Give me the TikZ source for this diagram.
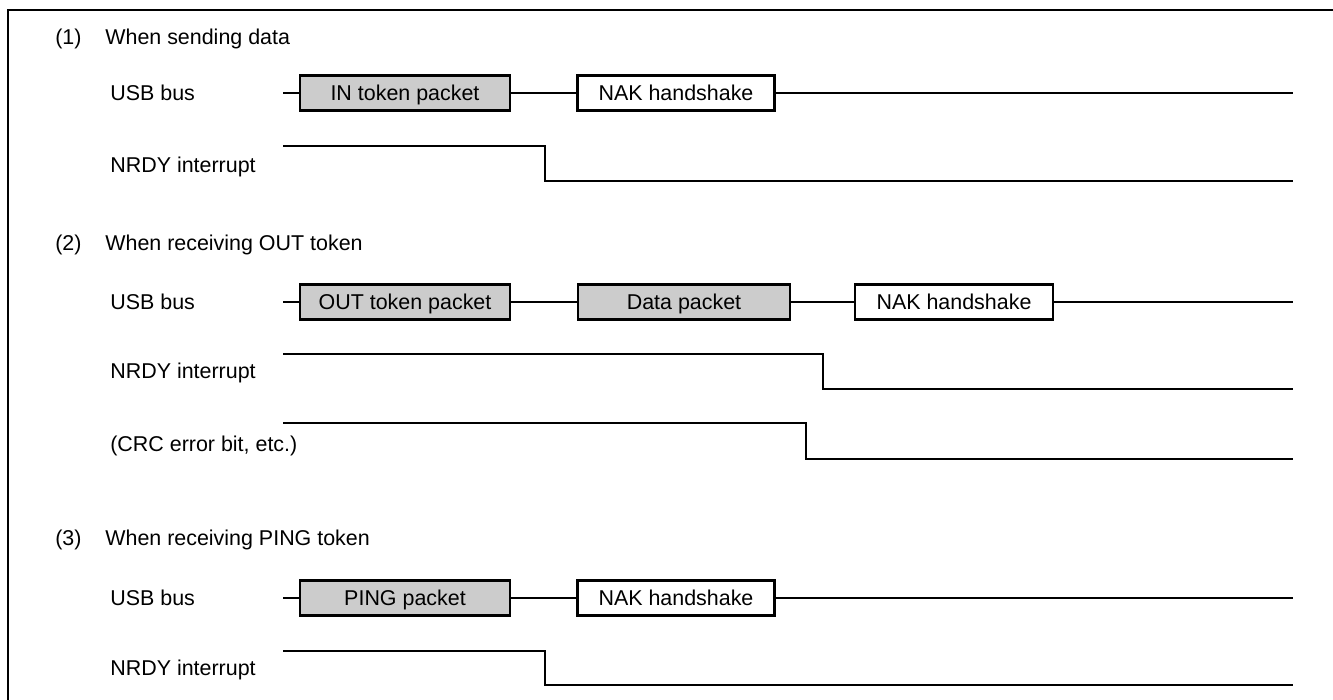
\documentclass[tikz,border=0pt]{standalone}
\usepackage{fontspec}
\setmainfont{Liberation Sans}
\usepackage{xcolor}
\usepackage{tikz}
\definecolor{pktgray}{RGB}{204,204,204}
\tikzset{
  pkt/.style={draw,line width=1.4pt,fill=pktgray,minimum width=4.2cm,minimum height=0.7cm,inner sep=0pt,text height=8.7pt,text depth=0pt},
  hshake/.style={pkt,fill=white,minimum width=3.94cm},
  lbl/.style={anchor=west,inner sep=0pt,text height=8.7pt,text depth=0pt},
  wire/.style={line width=1.4pt},
}

\begin{document}
\begin{tikzpicture}[x=0.02cm,y=-0.02cm,font=\fontsize{12.2}{14}\selectfont]
\useasboundingbox (0,0) rectangle (1333,700);
\draw[wire] (8,700)--(8,10)--(1333,10);
% (1) sending data
\node[lbl] (num1) at (55,37) {(1)};
\node[lbl] (ttl1) at (105,37) {When sending data};
\node[lbl] (usb1) at (110,93) {USB bus};
\node[lbl] (nrdy1) at (110,165) {NRDY interrupt};
\coordinate (bus1s) at (283,93);
\coordinate (bus1e) at (1293,93);
\node[pkt] (intok) at (405,93) {IN token packet};
\node[hshake] (nak1) at (676,93) {NAK handshake};
\draw[wire] (bus1s)--(intok.west) (intok.east)--(nak1.west) (nak1.east)--(bus1e);
\draw[wire] (283,146) -| (545,181) -- (1293,181);
% (2) OUT token
\node[lbl] (num2) at (55,243) {(2)};
\node[lbl] (ttl2) at (105,243) {When receiving OUT token};
\node[lbl] (usb2) at (110,302) {USB bus};
\node[lbl] (nrdy2) at (110,371) {NRDY interrupt};
\node[lbl] (crc2) at (110,444) {(CRC error bit, etc.)};
\coordinate (bus2s) at (283,302);
\coordinate (bus2e) at (1293,302);
\node[pkt] (outtok) at (405,302) {OUT token packet};
\node[pkt,minimum width=4.24cm] (data) at (684,302) {Data packet};
\node[hshake,minimum width=3.96cm] (nak2) at (954,302) {NAK handshake};
\draw[wire] (bus2s)--(outtok.west) (outtok.east)--(data.west) (data.east)--(nak2.west) (nak2.east)--(bus2e);
\draw[wire] (283,354) -| (823,389) -- (1293,389);
\draw[wire] (283,423) -| (806,459) -- (1293,459);
% (3) PING token
\node[lbl] (num3) at (55,538) {(3)};
\node[lbl] (ttl3) at (105,538) {When receiving PING token};
\node[lbl] (usb3) at (110,598) {USB bus};
\node[lbl] (nrdy3) at (110,668) {NRDY interrupt};
\coordinate (bus3s) at (283,598);
\coordinate (bus3e) at (1293,598);
\node[pkt] (ping) at (405,598) {PING packet};
\node[hshake] (nak3) at (676,598) {NAK handshake};
\draw[wire] (bus3s)--(ping.west) (ping.east)--(nak3.west) (nak3.east)--(bus3e);
\draw[wire] (283,651) -| (545,685) -- (1293,685);
\end{tikzpicture}
\end{document}
